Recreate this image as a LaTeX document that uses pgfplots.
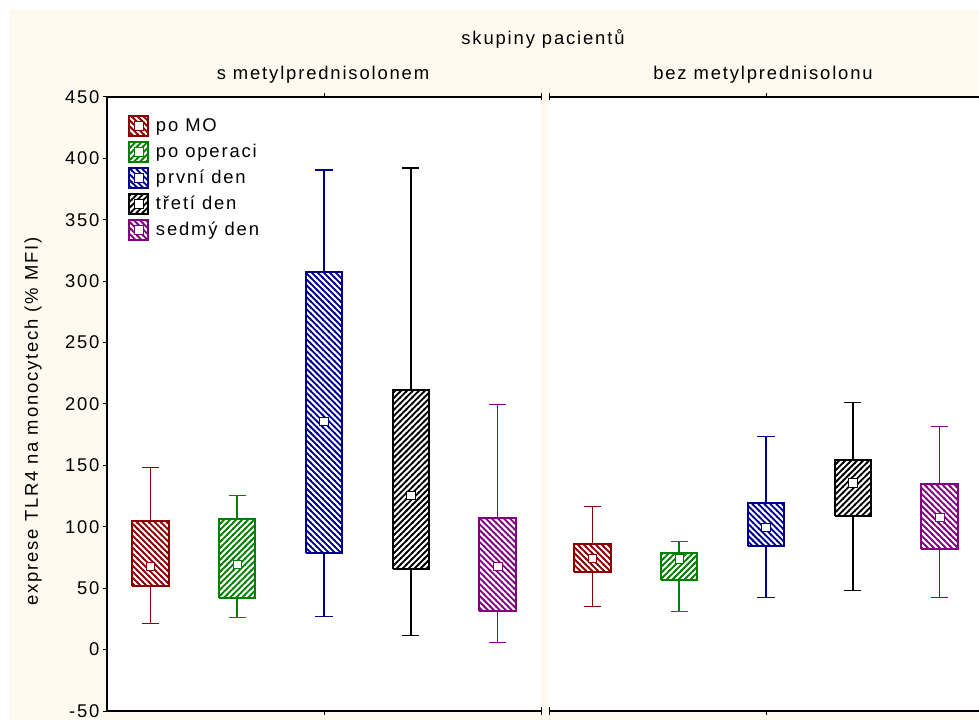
\documentclass[border=0pt]{standalone}
\usepackage{pgfplots}
\pgfplotsset{compat=1.18}
\usetikzlibrary{patterns}
\usepackage{fontspec}
\setmainfont{Liberation Sans}[LetterSpace=10]
\definecolor{cream}{RGB}{255,250,240}
\definecolor{cred}{RGB}{140,0,0}
\definecolor{cgreen}{RGB}{0,128,0}
\definecolor{cblue}{RGB}{0,0,140}
\definecolor{cpurple}{RGB}{128,0,128}
\pgfdeclarepatternformonly{ne}{\pgfqpoint{-1pt}{-1pt}}{\pgfqpoint{7pt}{7pt}}{\pgfqpoint{6pt}{6pt}}{%
  \pgfsetlinewidth{1.8bp}%
  \pgfpathmoveto{\pgfqpoint{-1pt}{-1pt}}%
  \pgfpathlineto{\pgfqpoint{7pt}{7pt}}%
  \pgfusepath{stroke}%
}
\pgfdeclarepatternformonly{nw}{\pgfqpoint{-1pt}{-1pt}}{\pgfqpoint{7pt}{7pt}}{\pgfqpoint{6pt}{6pt}}{%
  \pgfsetlinewidth{1.8bp}%
  \pgfpathmoveto{\pgfqpoint{-1pt}{7pt}}%
  \pgfpathlineto{\pgfqpoint{7pt}{-1pt}}%
  \pgfusepath{stroke}%
}
\newcommand{\fs}{\fontsize{18.5}{21}\selectfont}
\pgfplotsset{
  panel/.style={
    scale only axis, height=614bp, anchor=south west,
    ymin=-50, ymax=450, xmin=0.5,
    axis background/.style={fill=white},
    axis line style={line width=1.6bp, black, -},
    ytick={-50,0,50,100,150,200,250,300,350,400,450},
    tick style={black, line width=1bp},
    major tick length=4bp,
    tick align=outside,
    xtick={3}, xticklabels={},
    extra x tick labels={},
    extra x tick style={tick align=center, major tick length=7bp},
    unbounded coords=jump,
    /pgf/number format/assume math mode=true,
    ticklabel style={font=\fs},
  },
}
% \bx{color}{pattern}{pos}{lower whisker}{lower quartile}{median}{upper quartile}{upper whisker}
\newcommand{\bx}[8]{%
  \pgfmathsetmacro{\xbl}{#3-0.21}\pgfmathsetmacro{\xbr}{#3+0.21}%
  \pgfmathsetmacro{\xcl}{#3-0.1}\pgfmathsetmacro{\xcr}{#3+0.1}%
  \edef\tmpa{\noexpand\addplot[draw=#1, line width=1.5bp, forget plot] coordinates {(#3,#7) (#3,#8) (nan,nan) (\xcl,#8) (\xcr,#8) (nan,nan) (#3,#5) (#3,#4) (nan,nan) (\xcl,#4) (\xcr,#4)};}\tmpa
  \edef\tmpb{\noexpand\addplot[draw=#1, line width=2bp, pattern=#2, pattern color=#1, line join=miter, forget plot] coordinates {(\xbl,#5) (\xbr,#5) (\xbr,#7) (\xbl,#7) (\xbl,#5)};}\tmpb
  \edef\tmpc{\noexpand\addplot[only marks, mark=square*, mark size=4.3bp, mark options={draw=#1, fill=white, line width=0.7bp, solid}, forget plot] coordinates {(#3,#6)};}\tmpc
}
\newcommand{\legimg}[2]{%
  \addlegendimage{legend image code/.code={%
    \draw[#1, line width=2bp, pattern=#2, pattern color=#1] (0bp,-10bp) rectangle (19bp,10bp);
    \draw[#1, line width=0.7bp, fill=white] (5bp,-4.5bp) rectangle (14bp,4.5bp);
  }}%
}
\begin{document}
\begin{tikzpicture}
\path[use as bounding box] (0bp,0bp) rectangle (979bp,720bp);
\fill[white] (0bp,0bp) rectangle (979bp,720bp);
\fill[cream] (9bp,0bp) rectangle (979bp,710bp);

\begin{axis}[panel, at={(107bp,9bp)}, width=434bp, xmax=5.5,
  axis y line*=left, axis x line*=box,
  extra x ticks={5.5},
  legend style={draw=none, fill=none, at={(0.041,0.975)}, anchor=north west, font=\fs, row sep=4bp,
    /tikz/every odd column/.append style={column sep=5bp}},
  legend cell align=left]
\bx{cred}{nw}{1}{21.2}{51.4}{67.7}{105}{148.4}
\bx{cgreen}{ne}{2}{26}{42.4}{69.3}{106}{125.5}
\bx{cblue}{nw}{3}{26.9}{78.3}{185.9}{307.3}{390.5}
\bx{black}{ne}{4}{11.4}{66}{125.5}{211}{392}
\bx{cpurple}{nw}{5}{5.7}{31.8}{67.7}{106.8}{199.7}
\legimg{cred}{nw}\addlegendentry{po MO}
\legimg{cgreen}{ne}\addlegendentry{po operaci}
\legimg{cblue}{nw}\addlegendentry{první den}
\legimg{black}{ne}\addlegendentry{třetí den}
\legimg{cpurple}{nw}\addlegendentry{sedmý den}
\end{axis}

\begin{axis}[panel, at={(549bp,9bp)}, width=430bp, xmax=5.454, hide y axis,
  extra x ticks={0.5}]
\bx{cred}{nw}{1}{35}{62.8}{74.2}{85.6}{116.6}
\bx{cgreen}{ne}{2}{31}{57}{74}{78.3}{88}
\bx{cblue}{nw}{3}{42.4}{84}{99.5}{119}{173.6}
\bx{black}{ne}{4}{48}{108.4}{136}{154}{201.4}
\bx{cpurple}{nw}{5}{42.4}{82.3}{107.6}{134.5}{181.8}
\end{axis}

\node[font=\fs, anchor=base] at (543bp,675bp) {skupiny pacientů};
\node[font=\fs, anchor=base] at (323bp,640bp) {s metylprednisolonem};
\node[font=\fs, anchor=base] at (763bp,640bp) {bez metylprednisolonu};
\node[font=\fs, rotate=90] at (33bp,298.5bp) {exprese TLR4 na monocytech (\% MFI)};
\end{tikzpicture}
\end{document}
